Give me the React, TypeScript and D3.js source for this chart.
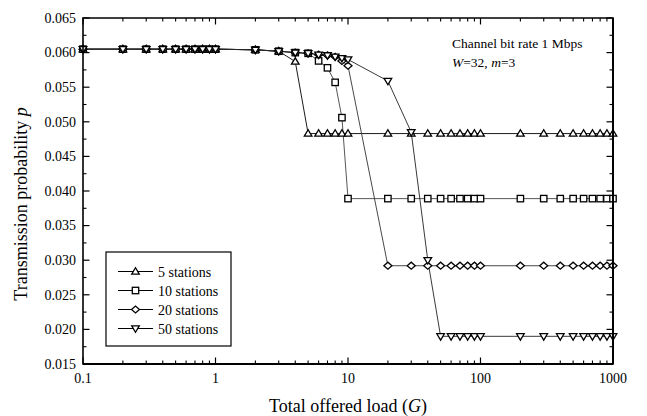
import React from "react";
import * as d3 from "d3";

const loads = [
  0.1, 0.2, 0.3, 0.4, 0.5, 0.6, 0.7, 0.8, 0.9,
  1, 2, 3, 4, 5, 6, 7, 8, 9,
  10, 20, 30, 40, 50, 60, 70, 80, 90,
  100, 200, 300, 400, 500, 600, 700, 800, 900, 1000,
];

const flat = [0.0605, 0.0605, 0.0605, 0.0605, 0.0605, 0.0605, 0.0605, 0.0605, 0.0605, 0.0605];

const st5 = [...flat, 0.0604, 0.0602, 0.0587, 0.0483, 0.0483, 0.0483, 0.0483, 0.0483,
  0.0483, 0.0483, 0.0483, 0.0483, 0.0483, 0.0483, 0.0483, 0.0483, 0.0483,
  0.0483, 0.0483, 0.0483, 0.0483, 0.0483, 0.0483, 0.0483, 0.0483, 0.0483, 0.0483];

const st10 = [...flat, 0.0604, 0.0602, 0.06, 0.0599, 0.0588, 0.0578, 0.0557, 0.0506,
  0.0389, 0.0389, 0.0389, 0.0389, 0.0389, 0.0389, 0.0389, 0.0389, 0.0389,
  0.0389, 0.0389, 0.0389, 0.0389, 0.0389, 0.0389, 0.0389, 0.0389, 0.0389, 0.0389];

const st20 = [...flat, 0.0604, 0.0602, 0.06, 0.0599, 0.0597, 0.0596, 0.0594, 0.0588,
  0.0581, 0.0292, 0.0292, 0.0292, 0.0292, 0.0292, 0.0292, 0.0292, 0.0292,
  0.0292, 0.0292, 0.0292, 0.0292, 0.0292, 0.0292, 0.0292, 0.0292, 0.0292, 0.0292];

const st50 = [...flat, 0.0604, 0.0602, 0.06, 0.0599, 0.0597, 0.0596, 0.0594, 0.0592,
  0.059, 0.0559, 0.0485, 0.03, 0.019, 0.019, 0.019, 0.019, 0.019,
  0.019, 0.019, 0.019, 0.019, 0.019, 0.019, 0.019, 0.019, 0.019, 0.019];

const seriesNames = ["5 stations", "10 stations", "20 stations", "50 stations"];
const seriesValues = [st5, st10, st20, st50];
const markerKinds = ["triUp", "square", "diamond", "triDown"];

const xTickValues = [0.1, 1, 10, 100, 1000];
const xTickLabels = ["0.1", "1", "10", "100", "1000"];
const yTickValues = [0.015, 0.02, 0.025, 0.03, 0.035, 0.04, 0.045, 0.05, 0.055, 0.06, 0.065];

const FONT = "Liberation Serif, DejaVu Serif, serif";

function Marker({ kind, x, y }: { kind: string; x: number; y: number }) {
  const common = { fill: "#fff", stroke: "#000", strokeWidth: 1.3 };
  if (kind === "square") return <rect x={x - 3.2} y={y - 3.2} width={6.4} height={6.4} {...common} />;
  if (kind === "diamond")
    return <path d={`M${x - 4},${y} L${x},${y - 3.5} L${x + 4},${y} L${x},${y + 3.5} Z`} {...common} />;
  if (kind === "triUp")
    return <path d={`M${x - 3.8},${y + 2.6} L${x + 3.8},${y + 2.6} L${x},${y - 3.8} Z`} {...common} />;
  return <path d={`M${x - 3.8},${y - 2.6} L${x + 3.8},${y - 2.6} L${x},${y + 3.8} Z`} {...common} />;
}

export default function App() {
  const L = 83, R = 613, T = 18, B = 364;
  const x = d3.scaleLog().domain([0.1, 1000]).range([L, R]);
  const y = d3.scaleLinear().domain([0.015, 0.065]).range([B, T]);

  const minorX: number[] = [];
  for (let d = 0.1; d < 1000; d *= 10) for (let k = 2; k <= 9; k++) minorX.push(+(d * k).toPrecision(3));
  const minorY = d3.range(0.0175, 0.065, 0.005);

  const line = d3
    .line<number>()
    .x((_, i) => x(loads[i]))
    .y((v) => y(v));

  const lineColors = ["#000", "#444", "#333", "#222"];

  const legX = 106, legY = 252, legW = 125, legH = 94;
  const rowY = [271.5, 290.5, 309.5, 328.5];

  return (
    <svg
      width={647}
      height={416}
      style={{ position: "absolute", left: 0, top: 0, background: "#fff", fontFamily: FONT }}
    >
      <rect x={0} y={0} width={647} height={416} fill="#fff" />
      {seriesValues.map((vals, si) => (
        <path key={si} d={line(vals) || ""} fill="none" stroke={lineColors[si]} strokeWidth={0.9} />
      ))}
      {seriesValues.map((vals, si) =>
        vals.map((v, i) => <Marker key={si + "-" + i} kind={markerKinds[si]} x={x(loads[i])} y={y(v)} />)
      )}

      <path d={`M${L},${T} H${R} V${B} H${L} Z`} fill="none" stroke="#000" strokeWidth={1.6} />
      <line x1={L} x2={R} y1={B} y2={B} stroke="#000" strokeWidth={2} />
      <line x1={R} x2={R} y1={T} y2={B} stroke="#000" strokeWidth={2} />

      {xTickValues.map((v) => (
        <g key={"xt" + v}>
          <line x1={x(v)} x2={x(v)} y1={B} y2={B - 6.5} stroke="#000" strokeWidth={1.2} />
          <line x1={x(v)} x2={x(v)} y1={T} y2={T + 6.5} stroke="#000" strokeWidth={1.2} />
        </g>
      ))}
      {minorX.map((v) => (
        <g key={"xm" + v}>
          <line x1={x(v)} x2={x(v)} y1={B} y2={B - 3.5} stroke="#000" strokeWidth={1.1} />
          <line x1={x(v)} x2={x(v)} y1={T} y2={T + 3.5} stroke="#000" strokeWidth={1.1} />
        </g>
      ))}
      {xTickValues.map((v, i) => (
        <text key={"xl" + v} x={x(v)} y={383} textAnchor="middle" fontSize={14}>
          {xTickLabels[i]}
        </text>
      ))}

      {yTickValues.map((v) => (
        <g key={"yt" + v}>
          <line x1={L} x2={L + 6.5} y1={y(v)} y2={y(v)} stroke="#000" strokeWidth={1.2} />
          <line x1={R} x2={R - 6.5} y1={y(v)} y2={y(v)} stroke="#000" strokeWidth={1.2} />
          <text x={76} y={y(v) + 4.8} textAnchor="end" fontSize={14}>
            {v.toFixed(3)}
          </text>
        </g>
      ))}
      {minorY.map((v) => (
        <g key={"ym" + v}>
          <line x1={L} x2={L + 3.5} y1={y(v)} y2={y(v)} stroke="#000" strokeWidth={1.1} />
          <line x1={R} x2={R - 3.5} y1={y(v)} y2={y(v)} stroke="#000" strokeWidth={1.1} />
        </g>
      ))}

      <text x={(L + R) / 2} y={412} textAnchor="middle" fontSize={18}>
        Total offered load (<tspan fontStyle="italic">G</tspan>)
      </text>
      <text transform={`translate(27,204) rotate(-90)`} textAnchor="middle" fontSize={18}>
        Transmission probability <tspan fontStyle="italic">p</tspan>
      </text>

      <text x={452} y={47.5} fontSize={13.5}>
        Channel bit rate 1 Mbps
      </text>
      <text x={452} y={66.5} fontSize={13.5}>
        <tspan fontStyle="italic">W</tspan>=32, <tspan fontStyle="italic">m</tspan>=3
      </text>

      <rect x={legX} y={legY} width={legW} height={legH} fill="#fff" stroke="#000" strokeWidth={1.2} />
      {seriesNames.map((name, i) => (
        <g key={name}>
          <line x1={118} x2={153} y1={rowY[i]} y2={rowY[i]} stroke="#000" strokeWidth={1} />
          <Marker kind={markerKinds[i]} x={135.5} y={rowY[i]} />
          <text x={158} y={rowY[i] + 5} fontSize={14}>
            {name}
          </text>
        </g>
      ))}
    </svg>
  );
}
